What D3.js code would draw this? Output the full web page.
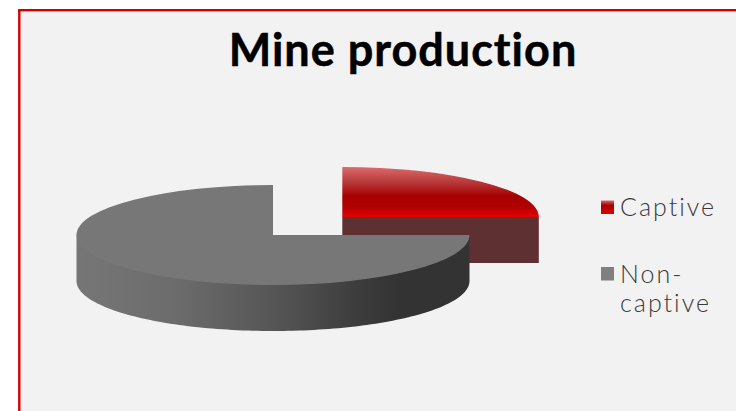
<!DOCTYPE html>
<html>
<head>
<meta charset="utf-8">
<script src="https://cdn.jsdelivr.net/npm/d3@7/dist/d3.min.js"></script>
<style>
html,body{margin:0;padding:0;background:#fff;overflow:hidden}
svg{display:block}
text{font-variant-ligatures:none}
</style>
</head>
<body>
<script>
// Share of mine production by ownership type
const categories = ["Captive", "Non-captive"];
const shares = [25, 75];
const legendLines = [["Captive"], ["Non-", "captive"]];
const chartTitle = "Mine production";

const W = 736, H = 411;
const svg = d3.select("body").append("svg").attr("width", W).attr("height", H);
const defs = svg.append("defs");

const rx = 196.5, ry = 50, depth = 46;

function gradient(id, attrs, stops) {
  const g = defs.append("linearGradient").attr("id", id).attr("gradientUnits", attrs.units || "objectBoundingBox")
    .attr("x1", attrs.x1).attr("y1", attrs.y1).attr("x2", attrs.x2).attr("y2", attrs.y2);
  stops.forEach(([o, c]) => g.append("stop").attr("offset", o).attr("stop-color", c));
}
const redStops = [[0, "#dc6a6a"], [0.3, "#b83a3a"], [0.58, "#a60000"], [0.8, "#b00000"], [0.97, "#e00000"], [1, "#e00000"]];
gradient("redTop", {x1: 0, y1: 0, x2: 0, y2: 1}, redStops);
gradient("redSwatch", {x1: 0, y1: 0, x2: 0, y2: 1}, [[0, "#d86a6a"], [0.35, "#a80000"], [1, "#dc0000"]]);
// Wall shading runs across the slice's local x axis, left rim to right rim
gradient("greyWall", {units: "userSpaceOnUse", x1: -rx, y1: 0, x2: rx, y2: 0},
  [[0, "#767676"], [0.25, "#6c6c6c"], [0.5, "#565656"], [0.72, "#3c3c3c"], [0.82, "#333333"], [1, "#333333"]]);

// Panel with red frame
svg.append("rect").attr("x", 19.3).attr("y", 10.2).attr("width", W).attr("height", H)
  .attr("fill", "#f2f2f2").attr("stroke", "#d40000").attr("stroke-width", 2.4);

svg.append("text").attr("x", 403).attr("y", 66).attr("text-anchor", "middle")
  .attr("font-family", "Lato, 'Open Sans', sans-serif").attr("font-weight", 700).attr("font-size", 45)
  .attr("letter-spacing", 1).attr("stroke", "#000").attr("stroke-width", 0.5)
  .attr("fill", "#000").text(chartTitle);

const slices = d3.pie().sort(null)(shares);
const placement = [{cx: 342.3, cy: 217}, {cx: 273, cy: 235}];
const arcTop = d3.arc().innerRadius(0).outerRadius(rx);

// Ellipse coordinates for a pie angle (0 at twelve o'clock, clockwise)
const rimX = d3.scaleLinear().domain([-1, 1]).range([-rx, rx]);
const rimY = d3.scaleLinear().domain([-1, 1]).range([-ry, ry]);
const rimPoint = a => [rimX(Math.sin(a)), rimY(-Math.cos(a))];

// The upper edge is tucked under the top face so no background shows at the join
function wallPath(a0, a1) {
  const from = Math.max(a0, Math.PI / 2), to = Math.min(a1, 3 * Math.PI / 2);
  const angles = d3.range(0, 121).map(i => from + (to - from) * i / 120);
  const upper = angles.map(a => { const p = rimPoint(a); return [p[0], p[1] - 2]; });
  const lower = angles.slice().reverse().map(a => { const p = rimPoint(a); return [p[0], p[1] + depth]; });
  return d3.line()(upper.concat(lower)) + "Z";
}

const fills = ["url(#redTop)", "#777777"];

// Captive slice sits behind the larger one
slices.forEach((s, i) => {
  const g = svg.append("g").attr("transform", `translate(${placement[i].cx},${placement[i].cy})`);
  if (i === 0) {
    // Front cut face of the lifted slice, running from the centre to the rim
    g.append("rect").attr("x", 0).attr("y", 0).attr("width", rimX(Math.sin(s.endAngle))).attr("height", depth)
      .attr("fill", "#5f3031");
  } else {
    g.append("path").attr("d", wallPath(s.startAngle, s.endAngle)).attr("fill", "url(#greyWall)");
  }
  g.append("path").attr("transform", `scale(1,${ry / rx})`).attr("d", arcTop(s)).attr("fill", fills[i]);
});

// Legend
const swatchFill = ["url(#redSwatch)", "#808080"];
const legendRows = [{sy: 200.5, base: [216]}, {sy: 267, base: [283, 312]}];
categories.forEach((c, i) => {
  const row = svg.append("g").attr("class", "legend-row").attr("data-category", c);
  row.append("rect").attr("x", 601).attr("y", legendRows[i].sy).attr("width", 13).attr("height", 13.5).attr("fill", swatchFill[i]);
  legendLines[i].forEach((line, k) => {
    row.append("text").attr("x", 620).attr("y", legendRows[i].base[k])
      .attr("font-family", "Lato, sans-serif").attr("font-weight", 300).attr("font-size", 25)
      .attr("letter-spacing", 2).attr("fill", "#3a3a3a").text(line);
  });
});
</script>
</body>
</html>
